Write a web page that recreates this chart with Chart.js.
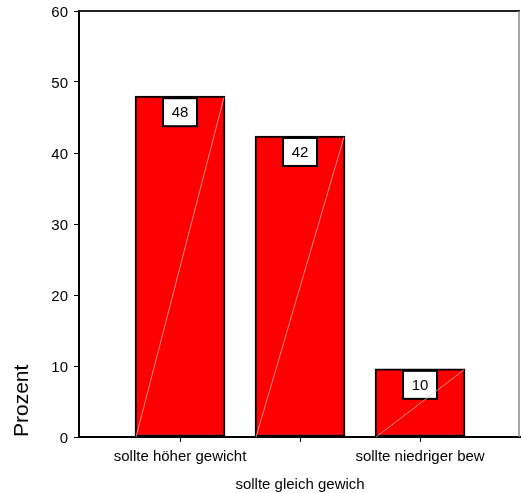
<!DOCTYPE html>
<html>
<head>
<meta charset="utf-8">
<script src="https://cdn.jsdelivr.net/npm/chart.js@4"></script>
<style>
  html, body { margin: 0; padding: 0; background: #fff; }
  #wrap { width: 521px; height: 493px; }
</style>
</head>
<body>
<div id="wrap"><canvas id="chart"></canvas></div>
<script>
// data
const categories = ["sollte höher gewicht", "sollte gleich gewich", "sollte niedriger bew"];
const positions = [1, 2, 3];
const percent = [48.0, 42.4, 9.6];
const valueLabels = ["48", "42", "10"];
const yTicks = [0, 10, 20, 30, 40, 50, 60];

const FONT = "'Liberation Sans', Arial, sans-serif";

// white boxes with the rounded value + faint diagonal in every bar
const barLabels = {
    id: "barLabels",
    afterDatasetsDraw(chart) {
        const ctx = chart.ctx;
        const bars = chart.getDatasetMeta(0).data;
        const base = chart.scales.y.getPixelForValue(0);
        ctx.save();
        bars.forEach(function (bar, i) {
            const half = bar.width / 2;
            const bw = 34, bh = 28;
            const bx = bar.x - bw / 2, by = bar.y + 2;
            ctx.fillStyle = "#ffffff";
            ctx.fillRect(bx, by, bw, bh);
            ctx.strokeStyle = "#000000";
            ctx.lineWidth = 2;
            ctx.strokeRect(bx, by, bw, bh);

            ctx.beginPath();
            ctx.moveTo(bar.x - half + 1, base);
            ctx.lineTo(bar.x + half - 1, bar.y + 1);
            ctx.strokeStyle = "rgba(255,190,190,0.9)";
            ctx.lineWidth = 0.8;
            ctx.stroke();

            ctx.fillStyle = "#000000";
            ctx.font = "15px " + FONT;
            ctx.textAlign = "center";
            ctx.textBaseline = "middle";
            ctx.fillText(valueLabels[i], bar.x, by + bh / 2 + 1);
        });

        // frame: top and right
        const a = chart.chartArea;
        ctx.beginPath();
        ctx.moveTo(a.left, a.top);
        ctx.lineTo(a.right, a.top);
        ctx.strokeStyle = "#222";
        ctx.lineWidth = 2;
        ctx.stroke();
        ctx.beginPath();
        ctx.moveTo(a.right - 1, a.top);
        ctx.lineTo(a.right - 1, a.bottom);
        ctx.strokeStyle = "#888";
        ctx.lineWidth = 1.5;
        ctx.stroke();
        ctx.restore();
    }
};

new Chart(document.getElementById("chart"), {
    type: "bar",
    data: {
        datasets: [{
            data: positions.map((p, i) => ({ x: p, y: percent[i] })),
            backgroundColor: "#ff0000",
            borderColor: "#000000",
            borderWidth: 2,
            borderSkipped: false,
            barThickness: 90,
        }],
    },
    options: {
        responsive: true,
        maintainAspectRatio: false,
        animation: false,
        layout: { padding: { top: 11, right: 1, left: 0, bottom: 0 } },
        plugins: {
            legend: { display: false },
            tooltip: { enabled: false },
        },
        scales: {
            x: {
                type: "linear",
                offset: false,
                min: 0.158,
                max: 3.833,
                afterBuildTicks(scale) {
                    scale.ticks = positions.map((v) => ({ value: v }));
                },
                afterFit(scale) {
                    scale.height = 56;
                    scale.paddingLeft = 0;
                    scale.paddingRight = 0;
                },
                border: { color: "#000", width: 2 },
                grid: {
                    offset: false,
                    drawOnChartArea: false,
                    tickLength: 5,
                    tickColor: "#000",
                },
                ticks: {
                    autoSkip: false,
                    maxRotation: 0,
                    padding: 1,
                    color: "#000",
                    font: { family: FONT, size: 15, lineHeight: 1.87 },
                    callback(value) {
                        const i = positions.indexOf(value);
                        if (i < 0) return "";
                        return i === 1 ? ["", categories[i]] : categories[i];
                    },
                },
            },
            y: {
                min: 0,
                max: 60,
                afterBuildTicks(scale) {
                    scale.ticks = yTicks.map((v) => ({ value: v }));
                },
                afterFit(scale) {
                    scale.width = 79;
                    scale.paddingTop = 0;
                    scale.paddingBottom = 0;
                },
                border: { color: "#000", width: 2 },
                grid: {
                    drawOnChartArea: false,
                    tickLength: 5,
                    tickColor: "#000",
                },
                ticks: {
                    padding: 6,
                    labelOffset: 2,
                    color: "#000",
                    font: { family: FONT, size: 15 },
                },
                title: {
                    display: true,
                    text: "Prozent",
                    align: "start",
                    color: "#000",
                    font: { family: FONT, size: 21 },
                    padding: { top: 10, bottom: 0 },
                },
            },
        },
    },
    plugins: [barLabels],
});
</script>
</body>
</html>
